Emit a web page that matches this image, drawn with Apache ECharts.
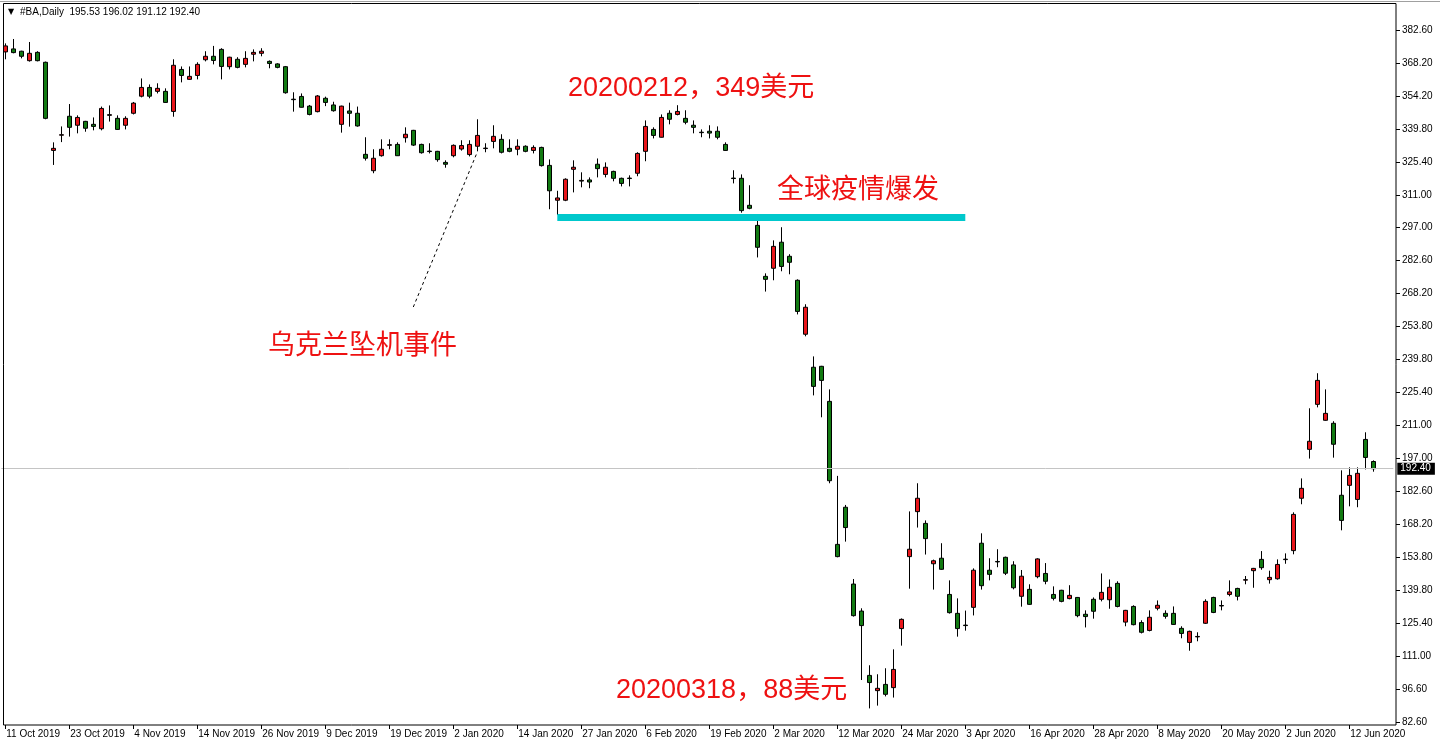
<!DOCTYPE html>
<html>
<head>
<meta charset="utf-8">
<script src="https://cdn.jsdelivr.net/npm/echarts@6/dist/echarts.min.js"></script>
<style>
html,body{margin:0;padding:0;background:#fff;}
#chart{width:1440px;height:748px;}
</style>
</head>
<body>
<div id="chart"></div>
<script>
// ---- categories: trading days ----
const dates = [
'11 Oct 2019','14 Oct 2019','15 Oct 2019','16 Oct 2019','17 Oct 2019','18 Oct 2019','21 Oct 2019','22 Oct 2019','23 Oct 2019','24 Oct 2019','25 Oct 2019','28 Oct 2019','29 Oct 2019','30 Oct 2019','31 Oct 2019',
'1 Nov 2019','4 Nov 2019','5 Nov 2019','6 Nov 2019','7 Nov 2019','8 Nov 2019','11 Nov 2019','12 Nov 2019','13 Nov 2019','14 Nov 2019','15 Nov 2019','18 Nov 2019','19 Nov 2019','20 Nov 2019','21 Nov 2019','22 Nov 2019','25 Nov 2019','26 Nov 2019','27 Nov 2019','29 Nov 2019',
'2 Dec 2019','3 Dec 2019','4 Dec 2019','5 Dec 2019','6 Dec 2019','9 Dec 2019','10 Dec 2019','11 Dec 2019','12 Dec 2019','13 Dec 2019','16 Dec 2019','17 Dec 2019','18 Dec 2019','19 Dec 2019','20 Dec 2019','23 Dec 2019','24 Dec 2019','26 Dec 2019','27 Dec 2019','30 Dec 2019','31 Dec 2019',
'2 Jan 2020','3 Jan 2020','6 Jan 2020','7 Jan 2020','8 Jan 2020','9 Jan 2020','10 Jan 2020','13 Jan 2020','14 Jan 2020','15 Jan 2020','16 Jan 2020','17 Jan 2020','21 Jan 2020','22 Jan 2020','23 Jan 2020','24 Jan 2020','27 Jan 2020','28 Jan 2020','29 Jan 2020','30 Jan 2020','31 Jan 2020',
'3 Feb 2020','4 Feb 2020','5 Feb 2020','6 Feb 2020','7 Feb 2020','10 Feb 2020','11 Feb 2020','12 Feb 2020','13 Feb 2020','14 Feb 2020','18 Feb 2020','19 Feb 2020','20 Feb 2020','21 Feb 2020','24 Feb 2020','25 Feb 2020','26 Feb 2020','27 Feb 2020','28 Feb 2020',
'2 Mar 2020','3 Mar 2020','4 Mar 2020','5 Mar 2020','6 Mar 2020','9 Mar 2020','10 Mar 2020','11 Mar 2020','12 Mar 2020','13 Mar 2020','16 Mar 2020','17 Mar 2020','18 Mar 2020','19 Mar 2020','20 Mar 2020','23 Mar 2020','24 Mar 2020','25 Mar 2020','26 Mar 2020','27 Mar 2020','30 Mar 2020','31 Mar 2020',
'1 Apr 2020','2 Apr 2020','3 Apr 2020','6 Apr 2020','7 Apr 2020','8 Apr 2020','9 Apr 2020','13 Apr 2020','14 Apr 2020','15 Apr 2020','16 Apr 2020','17 Apr 2020','20 Apr 2020','21 Apr 2020','22 Apr 2020','23 Apr 2020','24 Apr 2020','27 Apr 2020','28 Apr 2020','29 Apr 2020','30 Apr 2020',
'1 May 2020','4 May 2020','5 May 2020','6 May 2020','7 May 2020','8 May 2020','11 May 2020','12 May 2020','13 May 2020','14 May 2020','15 May 2020','18 May 2020','19 May 2020','20 May 2020','21 May 2020','22 May 2020','26 May 2020','27 May 2020','28 May 2020','29 May 2020',
'1 Jun 2020','2 Jun 2020','3 Jun 2020','4 Jun 2020','5 Jun 2020','8 Jun 2020','9 Jun 2020','10 Jun 2020','11 Jun 2020','12 Jun 2020','15 Jun 2020','16 Jun 2020','17 Jun 2020'
];

// ---- OHLC series values ----
const opens = [
373.1,374.4,373.4,369.3,372.9,368.6,330.4,337.0,345.2,341.3,343.0,341.7,339.8,345.6,344.3,
341.3,346.5,353.9,357.7,356.0,356.0,347.3,365.5,361.2,362.9,369.7,371.2,374.2,366.7,369.9,367.7,372.1,372.5,369.0,367.9,
366.7,352.6,353.8,349.6,347.2,353.0,350.1,341.7,347.5,346.5,328.7,321.6,328.1,332.6,333.0,335.9,339.1,333.0,330.1,330.0,325.2,
328.1,331.0,328.6,332.2,331.2,334.3,335.2,331.3,330.9,332.2,330.4,331.7,323.9,308.8,308.8,322.2,317.1,317.6,324.4,320.0,321.3,
318.3,318.4,320.5,330.0,339.5,336.1,346.5,346.0,344.3,341.3,338.3,338.7,338.7,333.0,318.4,318.3,306.6,297.9,275.8,
279.3,290.6,284.5,274.1,250.7,236.4,236.8,221.6,159.6,175.7,142.4,130.7,102.8,96.2,98.9,97.5,123.1,154.3,173.8,168.7,151.2,153.6,
137.9,129.7,124.6,132.3,160.1,148.4,152.2,154.0,150.7,137.1,140.1,145.6,147.0,137.9,139.7,136.1,136.6,129.3,135.8,135.8,135.6,
142.7,125.9,132.7,125.7,122.3,131.9,129.7,129.7,123.2,117.1,119.5,125.4,136.6,133.1,137.9,140.5,144.1,148.2,153.1,144.3,
144.7,153.0,156.9,179.6,200.8,220.3,213.4,212.1,180.9,185.2,179.1,205.1,195.53
];
const closes = [
375.7,372.8,371.2,372.5,369.3,344.3,331.3,337.2,340.4,344.7,340.0,340.8,348.6,345.9,339.5,
344.3,350.9,357.7,353.9,357.3,351.2,367.3,362.9,362.5,367.7,371.2,369.4,366.8,370.8,366.4,370.3,372.9,373.4,368.1,366.4,
355.4,352.4,349.1,346.0,354.0,351.2,347.6,349.6,346.5,341.0,327.0,327.0,330.9,332.9,328.1,337.4,332.7,329.4,329.9,326.4,324.4,
332.6,332.5,333.0,336.9,331.4,336.5,329.6,330.0,332.2,330.0,331.7,323.8,312.9,309.8,317.9,323.1,317.4,316.7,322.5,323.1,318.3,
316.1,318.2,329.1,340.8,336.9,344.7,343.9,347.3,342.6,340.4,338.1,337.9,336.1,330.4,318.2,304.3,305.3,288.4,274.5,
288.8,280.1,281.9,260.6,262.4,228.1,230.7,187.2,154.3,166.9,128.7,124.4,99.7,97.2,94.6,105.4,127.1,157.5,179.6,162.1,152.5,148.8,
130.0,123.1,124.4,148.4,141.7,146.6,152.0,147.1,140.8,145.8,133.6,153.3,143.6,136.2,134.9,137.5,128.7,128.3,130.6,138.8,141.0,
132.7,131.0,124.8,121.5,128.0,133.2,128.4,124.9,121.0,121.9,119.7,134.9,130.1,132.9,139.0,137.1,144.3,149.2,149.5,145.3,
150.9,153.2,172.6,183.9,204.3,230.7,216.4,203.0,170.0,189.5,190.4,197.3,192.40
];
const lows = [
369.9,372.5,370.3,368.9,369.0,343.9,324.1,334.0,336.4,337.8,338.5,339.1,339.1,342.9,339.3,
339.5,346.0,353.4,353.0,355.1,351.0,345.0,359.9,361.0,361.2,369.0,367.7,361.2,365.5,366.0,366.4,369.0,371.2,366.0,366.0,
355.0,347.2,349.0,345.6,346.9,349.6,347.2,338.1,340.7,340.7,326.0,320.5,327.7,330.9,328.0,333.8,332.3,329.0,329.1,325.5,322.9,
327.4,330.3,327.8,330.0,329.6,331.3,329.1,329.6,328.3,329.6,329.1,323.4,304.9,302.4,308.4,312.2,314.4,314.0,318.7,318.7,317.0,
314.8,314.8,319.2,325.7,335.6,336.0,341.7,345.6,341.7,337.8,336.1,335.6,335.2,330.2,316.1,303.4,304.9,284.0,269.2,
274.1,278.0,276.7,259.3,249.8,224.2,214.7,186.1,154.0,160.8,128.3,100.8,88.5,89.7,93.7,93.2,115.7,140.4,166.9,155.2,140.0,148.6,
129.6,119.6,122.2,128.8,140.0,144.0,149.7,146.3,140.1,132.6,133.4,144.9,142.3,135.3,134.5,135.8,128.0,123.6,127.4,134.9,131.7,
132.3,124.1,124.5,121.0,121.9,131.0,127.4,124.7,118.9,113.5,117.6,125.1,129.8,131.0,137.1,135.3,142.3,140.8,148.6,142.6,
144.3,151.2,155.3,177.0,196.8,219.0,213.2,197.2,165.7,176.1,175.7,192.1,191.12
];
const highs = [
376.8,378.7,373.6,377.4,373.4,368.9,333.9,340.8,350.5,345.6,343.2,344.7,349.4,349.9,345.6,
345.2,351.4,361.6,359.0,359.5,357.3,369.9,366.8,366.8,368.6,373.4,375.7,374.7,371.0,370.8,373.4,374.2,374.7,369.4,368.2,
367.0,355.6,355.1,350.1,354.4,353.7,351.5,349.8,351.1,349.4,336.1,330.9,335.2,335.2,333.9,340.4,339.3,333.3,333.5,330.2,326.1,
333.0,334.8,334.8,343.9,333.5,341.3,337.4,335.2,335.2,332.6,332.6,332.0,326.5,312.9,318.3,326.1,320.9,318.7,326.9,325.2,321.6,
318.6,319.6,329.6,343.4,340.4,346.0,347.8,350.0,347.8,343.4,339.5,341.3,340.8,333.9,321.8,320.0,315.3,300.5,277.1,
291.4,297.1,285.4,274.5,263.7,241.1,237.0,226.8,189.3,176.7,144.6,131.9,107.2,103.3,105.9,114.1,127.5,173.9,186.1,170.0,153.0,160.1,
144.0,136.2,130.9,149.2,164.4,153.6,157.5,154.3,152.3,148.5,142.3,153.6,151.5,141.4,139.9,141.9,136.8,131.0,136.6,147.0,144.4,
143.6,131.2,133.2,126.7,131.0,135.3,131.0,132.7,124.1,122.2,121.5,135.8,136.9,135.3,144.0,140.8,145.9,149.4,156.7,148.2,
153.1,155.7,173.5,188.2,218.6,233.8,226.8,213.0,191.7,193.0,193.0,208.2,196.02
];

// ---- tick labels ----
const xTickLabels = ['11 Oct 2019','23 Oct 2019','4 Nov 2019','14 Nov 2019','26 Nov 2019','9 Dec 2019','19 Dec 2019','2 Jan 2020','14 Jan 2020','27 Jan 2020','6 Feb 2020','19 Feb 2020','2 Mar 2020','12 Mar 2020','24 Mar 2020','3 Apr 2020','16 Apr 2020','28 Apr 2020','8 May 2020','20 May 2020','2 Jun 2020','12 Jun 2020'];
const yTickLabels = ['82.60','96.60','111.00','125.40','139.80','153.80','168.20','182.60','197.00','211.00','225.40','239.80','253.80','268.20','282.60','297.00','311.00','325.40','339.80','354.20','368.20','382.60'];

// ---- annotation values ----
const lastPrice = 192.40;
const outbreakLevel = 301.5;
const outbreakFrom = '22 Jan 2020', outbreakTo = '3 Apr 2020';
const crashPointerFrom = ['24 Dec 2019', 262.5];
const crashPointerTo = ['7 Jan 2020', 329.7];
const header = '#BA,Daily  195.53 196.02 191.12 192.40';

const ohlc = dates.map((d, i) => [opens[i], closes[i], lows[i], highs[i]]);
const xShown = new Set(xTickLabels);
const xCats = dates.concat(['', '']);

const RED = '#e8161b', GREEN = '#127a12', TXT = '#ee1111';
const annoFont = '27px "Liberation Sans", "Noto Sans CJK SC", sans-serif';

const chart = echarts.init(document.getElementById('chart'), null, {renderer: 'canvas'});
chart.setOption({
  animation: false,
  backgroundColor: '#fff',
  grid: {left: 1.3, right: 46.7, top: 30, bottom: 26, containLabel: false},
  xAxis: {
    type: 'category', data: xCats, boundaryGap: true, offset: 3,
    axisLine: {show: false},
    axisTick: {show: true, alignWithLabel: true, length: 4, lineStyle: {color: '#000'},
      interval: (idx, val) => xShown.has(val)},
    axisLabel: {interval: (idx, val) => xShown.has(val), align: 'left', margin: 4,
      fontSize: 10, color: '#000', fontFamily: 'Liberation Sans', padding: [0, 0, 0, 1]},
    splitLine: {show: false}
  },
  yAxis: [
    {type: 'value', min: 82.6, max: 382.6, show: false, position: 'left', splitLine: {show: false}},
    {type: 'category', data: yTickLabels, boundaryGap: false, position: 'right', offset: 2.7,
     axisLine: {show: false},
     axisTick: {show: true, length: 4, interval: 0, lineStyle: {color: '#000'}},
     axisLabel: {interval: 0, margin: 6, fontSize: 10, color: '#000', fontFamily: 'Liberation Sans'},
     splitLine: {show: false}}
  ],
  series: [{
    type: 'candlestick', xAxisIndex: 0, yAxisIndex: 0, data: ohlc, barWidth: 5,
    clip: false,
    itemStyle: {color: RED, color0: GREEN, borderColor: '#000', borderColor0: '#000',
      borderColorDoji: '#000', borderWidth: 1},
    markLine: {
      silent: true, symbol: ['none', 'none'], animation: false,
      data: [
        {yAxis: lastPrice, lineStyle: {color: '#c4c4c4', width: 1, type: 'solid'},
         label: {show: true, position: 'end', formatter: '192.40', backgroundColor: '#000', color: '#fff',
           padding: [1, 4, 1, 3], fontSize: 10, fontFamily: 'Liberation Sans', distance: 4}},
        [{coord: [outbreakFrom, outbreakLevel], lineStyle: {color: '#00c8cc', width: 7, type: 'solid'}, label: {show: false}},
         {coord: [outbreakTo, outbreakLevel]}],
        [{coord: crashPointerFrom, lineStyle: {color: '#000', width: 1, type: [3, 3]}, label: {show: false}},
         {coord: crashPointerTo}]
      ]
    }
  }],
  graphic: [
    {type: 'line', shape: {x1: 0, y1: 1.5, x2: 1440, y2: 1.5}, style: {stroke: '#a0a0a0', lineWidth: 1}, z: 10},
    {type: 'rect', shape: {x: 3.5, y: 3.5, width: 1392.5, height: 721.5}, style: {fill: 'none', stroke: '#000', lineWidth: 1}, z: 10},
    {type: 'text', x: 8, y: 12, style: {text: '▼', font: '8px "DejaVu Sans"', fill: '#000', verticalAlign: 'middle', textVerticalAlign: 'middle'}, z: 11},
    {type: 'text', x: 20, y: 12, style: {text: header, font: '10px "Liberation Sans"', fill: '#000', verticalAlign: 'middle', textVerticalAlign: 'middle'}, z: 11},
    {type: 'text', x: 568, y: 89, style: {text: '20200212，349美元', font: annoFont, fill: TXT, verticalAlign: 'middle', textVerticalAlign: 'middle'}, z: 11},
    {type: 'text', x: 777, y: 191, style: {text: '全球疫情爆发', font: annoFont, fill: TXT, verticalAlign: 'middle', textVerticalAlign: 'middle'}, z: 11},
    {type: 'text', x: 268, y: 347, style: {text: '乌克兰坠机事件', font: annoFont, fill: TXT, verticalAlign: 'middle', textVerticalAlign: 'middle'}, z: 11},
    {type: 'text', x: 616, y: 691, style: {text: '20200318，88美元', font: annoFont, fill: TXT, verticalAlign: 'middle', textVerticalAlign: 'middle'}, z: 11}
  ]
});
</script>
</body>
</html>
